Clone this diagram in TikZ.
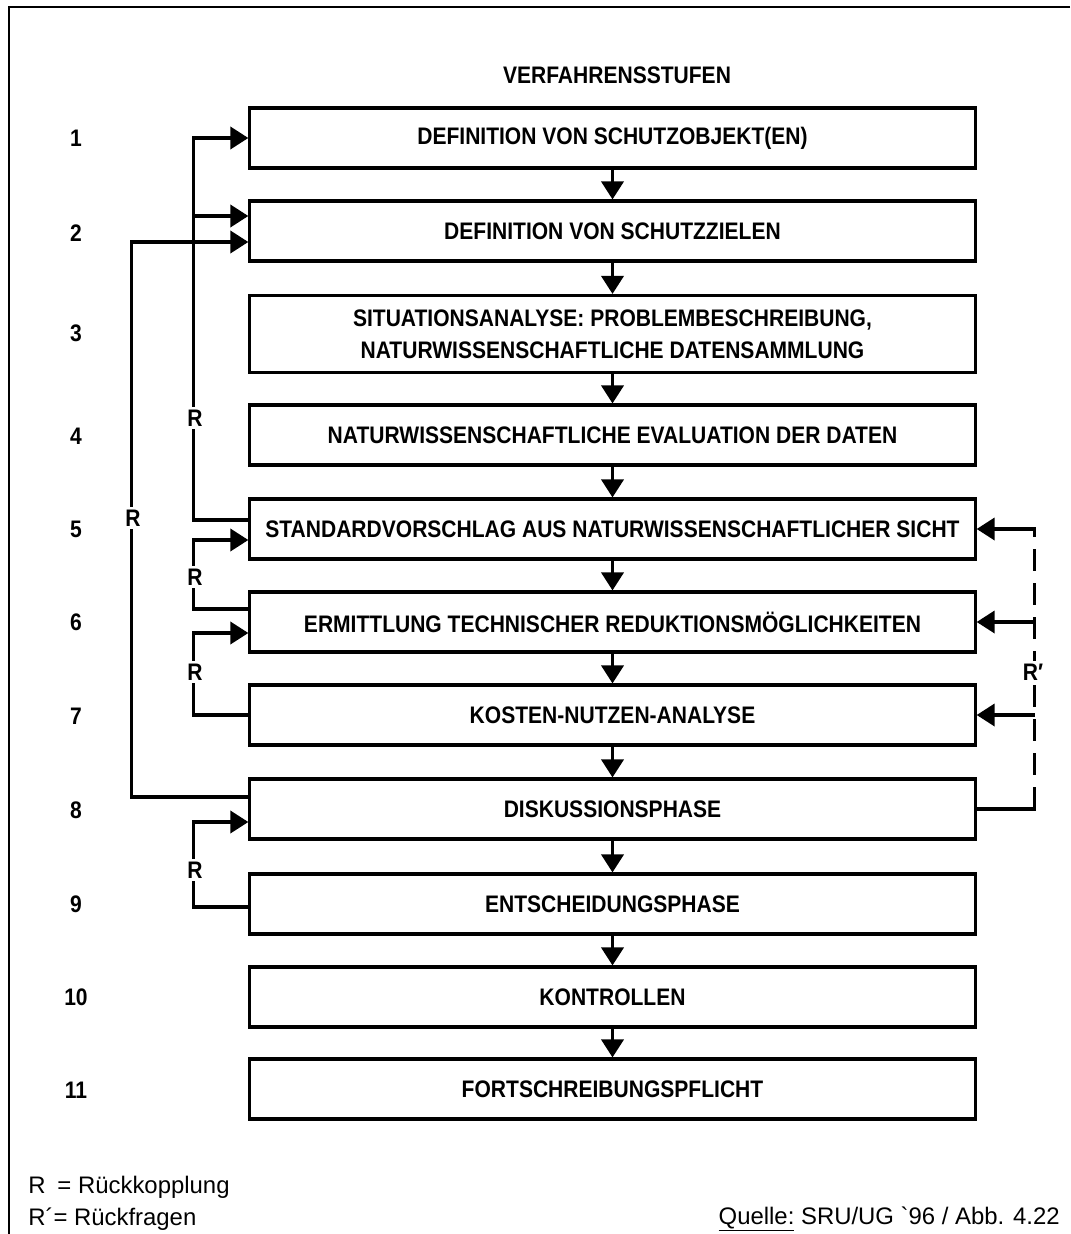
\documentclass[tikz,border=0pt]{standalone}
\usepackage{fontspec}
\setmainfont{Liberation Sans}
\newfontfamily\condfont{Liberation Sans}[FakeStretch=0.88]
\newfontfamily\srcfont{Liberation Sans}
\usetikzlibrary{arrows.meta, calc}

\begin{document}
\begin{tikzpicture}[x=0.025cm, y=-0.025cm,
  every node/.style={align=center, font=\condfont\fontsize{17}{22.8}\selectfont\bfseries},
  stepbox/.style={draw, line width=2.2pt, minimum width=18.125cm, minimum height=1.5cm, inner sep=0pt},
  fb/.style={line width=2.6pt},
  fbarrow/.style={fb, -{Triangle[length=0.45cm, width=0.55cm]}},
  rlbl/.style={fill=white, inner sep=2pt},
  legend/.style={font=\srcfont\fontsize{17}{20}\selectfont, inner sep=0pt}]
\useasboundingbox (0,0) rectangle (1070,1234);
\draw[line width=1.5pt] (1070,7) -- (9,7) -- (9,1234);

\node (title) at (617,75) {VERFAHRENSSTUFEN};

% Verfahrensstufen
\node[stepbox] (s1) at (612.5,138) {DEFINITION VON SCHUTZOBJEKT(EN)};
\node[stepbox] (s2) at (612.5,231) {DEFINITION VON SCHUTZZIELEN};
\node[stepbox, minimum height=1.925cm] (s3) at (612.5,334) {SITUATIONSANALYSE: PROBLEMBESCHREIBUNG,\\NATURWISSENSCHAFTLICHE DATENSAMMLUNG};
\node[stepbox] (s4) at (612.5,435) {NATURWISSENSCHAFTLICHE EVALUATION DER DATEN};
\node[stepbox] (s5) at (612.5,529) {STANDARDVORSCHLAG AUS NATURWISSENSCHAFTLICHER SICHT};
\node[stepbox] (s6) at (612.5,622) {ERMITTLUNG TECHNISCHER REDUKTIONSM\"OGLICHKEITEN};
\node[stepbox] (s7) at (612.5,715) {KOSTEN-NUTZEN-ANALYSE};
\node[stepbox] (s8) at (612.5,809) {DISKUSSIONSPHASE};
\node[stepbox] (s9) at (612.5,904) {ENTSCHEIDUNGSPHASE};
\node[stepbox] (s10) at (612.5,997) {KONTROLLEN};
\node[stepbox] (s11) at (612.5,1089) {FORTSCHREIBUNGSPFLICHT};

\foreach \n/\y in {1/138, 2/233, 3/333, 4/436, 5/529, 6/622, 7/716, 8/810, 9/904, 10/997, 11/1090}
  \node (n\n) at (76,\y) {\n};

\foreach \a/\b in {s1/s2, s2/s3, s3/s4, s4/s5, s5/s6, s6/s7, s7/s8, s8/s9, s9/s10, s10/s11}
  \draw[fbarrow] (\a.south) -- (\b.north);

% Rueckkopplungen (links)
\draw[fbarrow] ($(s5.west)+(0,-9)$) -| ($(s1.west)+(-55,0)$) -- (s1.west);
\draw[fbarrow] ($(s2.west)+(-55,-15)$) -- ($(s2.west)+(0,-15)$);
\draw[fbarrow] ($(s8.west)+(0,-12)$) -| ($(s2.west)+(-117,11)$) -- ($(s2.west)+(0,11)$);
\draw[fbarrow] ($(s6.west)+(0,-13)$) -| ($(s5.west)+(-55,11)$) -- ($(s5.west)+(0,11)$);
\draw[fbarrow] (s7.west) -| ($(s6.west)+(-55,11)$) -- ($(s6.west)+(0,11)$);
\draw[fbarrow] ($(s9.west)+(0,3)$) -| ($(s8.west)+(-55,13)$) -- ($(s8.west)+(0,13)$);
\node[rlbl] (r1) at (195,418) {R};
\node[rlbl] (r2) at (133,518) {R};
\node[rlbl] (r3) at (195,577) {R};
\node[rlbl] (r4) at (195,672) {R};
\node[rlbl] (r5) at (195,870) {R};

% Rueckfragen (rechts)
\draw[fb, line cap=rect] (s8.east) -- ($(s8.east)+(58,0)$);
\draw[fb, dash pattern=on 0.55cm off 0.3cm] ($(s8.east)+(58,0)$) -- ($(s5.east)+(58,0)$);
\draw[fbarrow, line cap=rect] ($(s5.east)+(58,0)$) -- (s5.east);
\draw[fbarrow] ($(s6.east)+(58,0)$) -- (s6.east);
\draw[fbarrow] ($(s7.east)+(58,0)$) -- (s7.east);
\node[rlbl] (rq) at (1033,672) {R′};

% Legende
\node[legend, anchor=west] (l1) at (28,1187) {R\enspace= R\"uckkopplung};
\node[legend, anchor=west] (l2) at (28,1219) {R´= R\"uckfragen};
\node[legend, anchor=east] (src) at (1060,1219) {\underline{Quelle:} SRU/UG `96 / Abb. 4.22};
\end{tikzpicture}
\end{document}
